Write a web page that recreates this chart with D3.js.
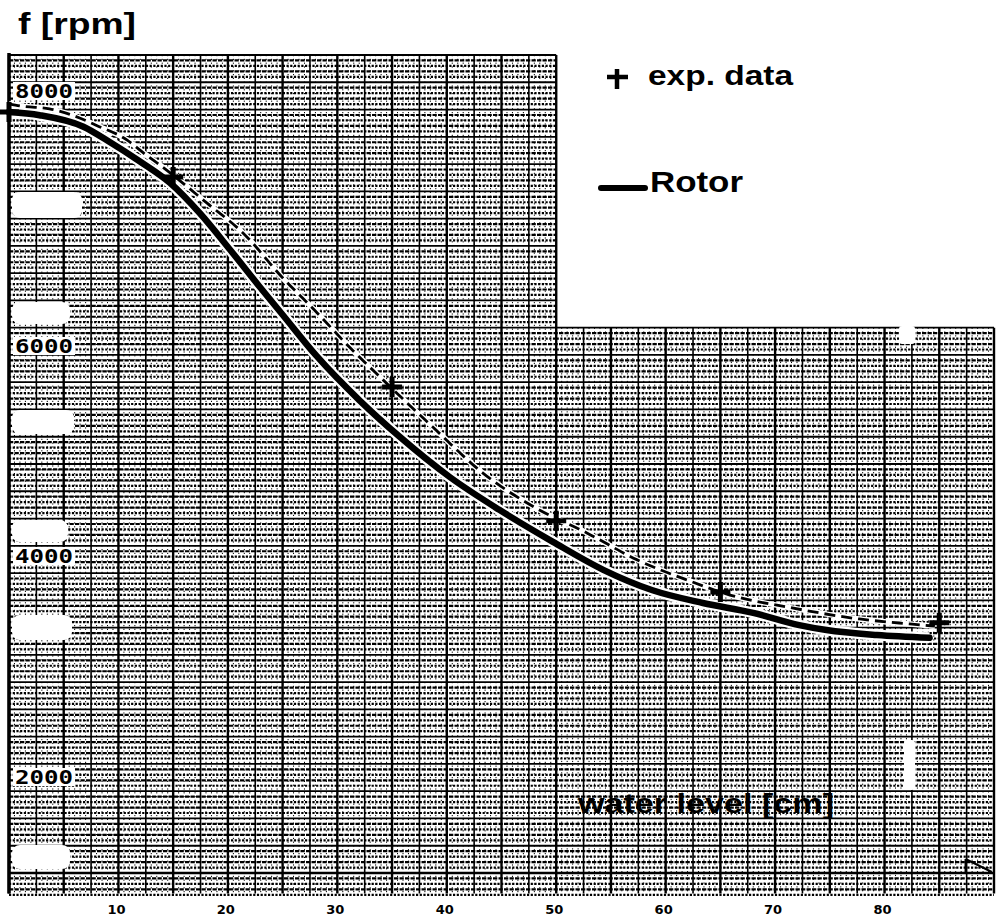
<!DOCTYPE html>
<html>
<head>
<meta charset="utf-8">
<script src="https://cdn.jsdelivr.net/npm/d3@7"></script>
<style>
  html, body { margin: 0; padding: 0; background: #fff; }
  svg { display: block; }
  text { font-family: "Liberation Sans", Arial, sans-serif; font-weight: bold; fill: #000; }
</style>
</head>
<body>
<div id="chart"></div>
<script>
"use strict";

//==========================================================================================
// Data (water level in cm, rotor speed in rpm)
//==========================================================================================
var rotorLevel = [0, 2.8, 6.8, 9.2, 12, 14.7, 17.4, 20.2, 22.9, 25, 28.1, 32, 35.7, 40.3,
                  44.8, 49.7, 54.3, 58.8, 63.4, 68, 72.2, 74.7, 79.3, 84.1];
var rotorRpm = [7835, 7810, 7720, 7600, 7445, 7280, 7045, 6755, 6465, 6245, 5905, 5485, 5135, 4750,
                4440, 4135, 3875, 3690, 3575, 3485, 3375, 3330, 3285, 3260];

var dashedLevel = [0, 1.3, 3.7, 5.8, 8, 10.8, 12.2, 14.4, 18.1, 21.4, 25, 28.1, 31.1, 34.2,
                   38.7, 43.3, 48, 52.8, 57.4, 61.9, 66.5, 71, 77.7, 82.3, 84.6];
var dashedRpm = [7900, 7880, 7860, 7810, 7730, 7615, 7520, 7380, 7120, 6885, 6535, 6265, 5990, 5675,
                 5230, 4790, 4465, 4220, 3965, 3785, 3630, 3540, 3430, 3385, 3365];

var expLevel = [0, 15, 35, 50, 65, 85];
var expRpm = [7835, 7325, 5610, 4335, 3675, 3395];

var yTicks = [2000, 4000, 6000, 8000];
var xTicks = [10, 20, 30, 40, 50, 60, 70, 80];

(function() {

    //------------------------------------------------------------------------------------------
    // Canvas and scales
    //------------------------------------------------------------------------------------------
    var width = 997, height = 920;

    var svg = d3.select("#chart").append("svg")
        .attr("width", width)
        .attr("height", height);

    var x = d3.scaleLinear().domain([0, 90]).range([9, 994]);
    // scanned paper: tick labels are not evenly spaced, so the scale is piecewise
    var y = d3.scaleLinear().domain([2000, 4000, 6000, 8000]).range([777, 556, 346, 91]);
    // graph paper rows (30 rows above the axis, one partial row under it)
    var row = d3.scaleLinear().domain([0, 30]).range([873, 55]);

    var paper = svg.append("g").attr("class", "paper");

    //------------------------------------------------------------------------------------------
    // Graph paper: minor lines
    //------------------------------------------------------------------------------------------
    var minorRows = d3.range(-0.8, 30, 0.2).filter(function(r) {
        return Math.abs(r - Math.round(r)) > 0.01;
    });
    paper.selectAll("line.hmin")
        .data(minorRows)
        .enter().append("line")
        .attr("class", "hmin")
        .attr("x1", x(0))
        .attr("x2", function(r) { return r < 20 ? x(90) : x(50); })
        .attr("y1", function(r) { return row(r); })
        .attr("y2", function(r) { return row(r); })
        .attr("stroke", "#000")
        .attr("stroke-width", 2.2)
        .attr("stroke-dasharray", function(r, i) { return i % 2 ? "4.3,1.2" : "2.2,1.5"; });

    var minorCols = d3.range(0, 90, 0.5).filter(function(c) {
        return Math.abs(c / 2.5 - Math.round(c / 2.5)) > 0.01;
    });
    paper.selectAll("line.vmin")
        .data(minorCols)
        .enter().append("line")
        .attr("class", "vmin")
        .attr("x1", function(c) { return x(c); })
        .attr("x2", function(c) { return x(c); })
        .attr("y1", function(c) { return c < 50 ? row(30) : row(20); })
        .attr("y2", row(-0.75))
        .attr("stroke", "#000")
        .attr("stroke-width", 1)
        .attr("stroke-dasharray", "1.2,2.6");

    //------------------------------------------------------------------------------------------
    // Graph paper: major lines
    //------------------------------------------------------------------------------------------
    paper.selectAll("line.hmaj")
        .data(d3.range(0, 31))
        .enter().append("line")
        .attr("class", "hmaj")
        .attr("x1", x(0))
        .attr("x2", function(r) { return r <= 20 ? x(90) : x(50); })
        .attr("y1", function(r) { return row(r); })
        .attr("y2", function(r) { return row(r); })
        .attr("stroke", "#000")
        .attr("stroke-width", 1.8);

    paper.selectAll("line.vmaj")
        .data(d3.range(0, 90.01, 2.5))
        .enter().append("line")
        .attr("class", "vmaj")
        .attr("x1", function(c) { return x(c); })
        .attr("x2", function(c) { return x(c); })
        .attr("y1", function(c) { return c <= 50 ? row(30) : row(20); })
        .attr("y2", row(-0.75))
        .attr("stroke", "#000")
        .attr("stroke-width", function(c) { return c % 5 === 0 ? 2.4 : 1.6; });

    //------------------------------------------------------------------------------------------
    // Scan blemishes (erased patches on the paper)
    //------------------------------------------------------------------------------------------
    var patches = [[12, 192, 70, 26], [12, 302, 58, 22], [12, 410, 62, 24], [12, 520, 56, 22],
                   [12, 615, 60, 25], [12, 845, 58, 24], [899, 326, 16, 18], [904, 740, 11, 50]];
    paper.selectAll("rect.patch")
        .data(patches)
        .enter().append("rect")
        .attr("x", function(p) { return p[0]; })
        .attr("y", function(p) { return p[1]; })
        .attr("width", function(p) { return p[2]; })
        .attr("height", function(p) { return p[3]; })
        .attr("rx", function(p) { return p[2] > 30 ? 8 : 3; })
        .attr("fill", "#fff");

    //------------------------------------------------------------------------------------------
    // Axes
    //------------------------------------------------------------------------------------------
    svg.append("line")
        .attr("x1", x(0)).attr("x2", x(0))
        .attr("y1", 53).attr("y2", row(-0.75))
        .attr("stroke", "#000").attr("stroke-width", 3.5);
    svg.append("line")
        .attr("x1", x(0)).attr("x2", x(90))
        .attr("y1", row(0)).attr("y2", row(0))
        .attr("stroke", "#000").attr("stroke-width", 2.6);
    svg.append("path")
        .attr("d", "M" + (x(87.4)) + "," + (row(0) - 14) + "L" + x(89.8) + "," + (row(0) - 1) +
                   "M" + (x(87.4)) + "," + (row(0) - 14) + "L" + x(87.4) + "," + row(0))
        .attr("fill", "none").attr("stroke", "#000").attr("stroke-width", 2);

    var yLab = svg.append("g").selectAll("g")
        .data(yTicks)
        .enter().append("g")
        .attr("transform", function(d) { return "translate(14," + y(d) + ")"; });
    yLab.append("rect")
        .attr("x", -1).attr("y", -9).attr("width", 62).attr("height", 18)
        .attr("fill", "#fff");
    yLab.append("text")
        .attr("x", 1)
        .attr("dy", "0.36em")
        .attr("textLength", 58)
        .attr("lengthAdjust", "spacingAndGlyphs")
        .style("font-family", "'DejaVu Sans Mono', monospace")
        .style("font-weight", "bold")
        .style("font-size", "19px")
        .text(function(d) { return d; });

    svg.append("g").selectAll("text")
        .data(xTicks)
        .enter().append("text")
        .attr("x", function(d) { return x(d) - 2; })
        .attr("y", 914)
        .attr("text-anchor", "middle")
        .style("font-family", "'DejaVu Sans', sans-serif")
        .style("font-size", "13px")
        .style("font-weight", "900")
        .text(function(d) { return d; });

    svg.append("text")
        .attr("x", 18).attr("y", 34)
        .attr("textLength", 118)
        .attr("lengthAdjust", "spacingAndGlyphs")
        .style("font-size", "29px")
        .text("f [rpm]");

    svg.append("text")
        .attr("x", 578).attr("y", 813)
        .attr("textLength", 256)
        .attr("lengthAdjust", "spacingAndGlyphs")
        .style("font-size", "27px")
        .text("water level [cm]");

    //------------------------------------------------------------------------------------------
    // Curves (white underlay mimics the cleared paper along the inked lines)
    //------------------------------------------------------------------------------------------
    var line = d3.line()
        .x(function(d) { return x(d[0]); })
        .y(function(d) { return y(d[1]); })
        .curve(d3.curveMonotoneX);

    var dashedData = d3.zip(dashedLevel, dashedRpm);
    var rotorData = d3.zip(rotorLevel, rotorRpm);

    svg.append("path")
        .datum(dashedData)
        .attr("d", line)
        .attr("fill", "none")
        .attr("stroke", "#fff")
        .attr("stroke-width", 5.5);
    svg.append("path")
        .datum(rotorData)
        .attr("d", line)
        .attr("fill", "none")
        .attr("stroke", "#fff")
        .attr("stroke-width", 11);

    svg.append("path")
        .datum(dashedData)
        .attr("d", line)
        .attr("fill", "none")
        .attr("stroke", "#000")
        .attr("stroke-width", 2.8)
        .attr("stroke-dasharray", "11,6");

    svg.append("path")
        .datum(rotorData)
        .attr("d", line)
        .attr("fill", "none")
        .attr("stroke", "#000")
        .attr("stroke-width", 6.5)
        .attr("stroke-linecap", "round");

    svg.append("g").selectAll("path")
        .data(d3.zip(expLevel, expRpm))
        .enter().append("path")
        .attr("d", function(d) {
            var cx = x(d[0]), cy = y(d[1]), s = 10;
            return "M" + (cx - s) + "," + cy + "H" + (cx + s) + "M" + cx + "," + (cy - s) + "V" + (cy + s);
        })
        .attr("stroke", "#000")
        .attr("stroke-width", 5);

    //------------------------------------------------------------------------------------------
    // Legend
    //------------------------------------------------------------------------------------------
    svg.append("path")
        .attr("d", "M607,77H628M617,69V89")
        .attr("stroke", "#000")
        .attr("stroke-width", 4.5);
    svg.append("text")
        .attr("x", 648).attr("y", 85)
        .attr("textLength", 145)
        .attr("lengthAdjust", "spacingAndGlyphs")
        .style("font-size", "28px")
        .text("exp. data");

    svg.append("line")
        .attr("x1", 601).attr("x2", 645)
        .attr("y1", 188).attr("y2", 188)
        .attr("stroke", "#000")
        .attr("stroke-width", 6)
        .attr("stroke-linecap", "round");
    svg.append("text")
        .attr("x", 650).attr("y", 192)
        .attr("textLength", 93)
        .attr("lengthAdjust", "spacingAndGlyphs")
        .style("font-size", "30px")
        .text("Rotor");

})();
</script>
</body>
</html>
